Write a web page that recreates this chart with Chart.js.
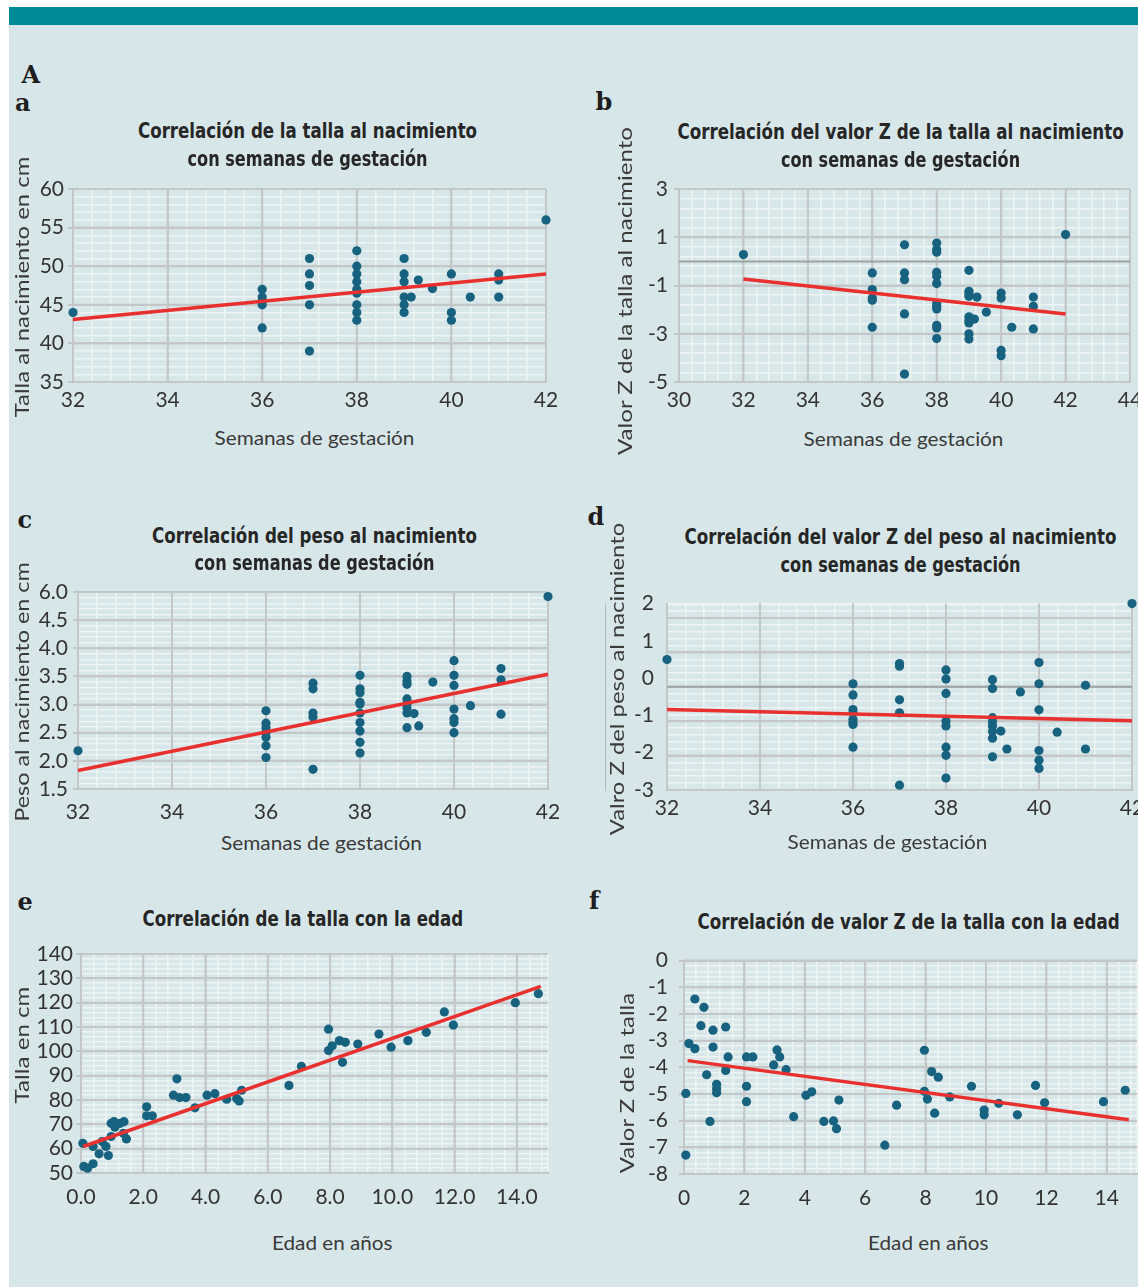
<!DOCTYPE html>
<html lang="es">
<head>
<meta charset="utf-8">
<title>Correlaciones de talla y peso</title>
<script src="https://cdn.jsdelivr.net/npm/chart.js@4.4.1/dist/chart.umd.min.js"></script>
<style>
  html, body { margin: 0; padding: 0; background: #fff; }
  body { width: 1138px; height: 1287px; position: relative; overflow: hidden; }
  #band { position: absolute; left: 9px; top: 7px; width: 1129px; height: 18px; background: #008b96; }
  #panel { position: absolute; left: 9px; top: 25px; width: 1129px; height: 1262px; background: #d7e6e9; }
  canvas { position: absolute; }
  .txt { position: absolute; white-space: nowrap; line-height: 1.2; }
  .title { font-family: "Liberation Sans Narrow", "DejaVu Sans Condensed", sans-serif; font-weight: bold; font-size: 21px; color: #262626; }
  .axis { font-family: Lato, "Open Sans", sans-serif; font-size: 20px; color: #3a3a3a; }
  .letter { font-family: "DejaVu Serif", serif; font-weight: bold; font-size: 24px; color: #1e1e1e; }
</style>
</head>
<body>
<div id="band"></div>
<div id="panel"></div>
<script>
// a: talla al nacimiento vs semanas
const aWeeks = [32, 36, 36, 36, 36, 36, 37, 37, 37, 37, 37, 38, 38, 38, 38, 38, 38, 38, 38, 38,
  39, 39, 39, 39, 39, 39, 39.15, 39.3, 39.6, 40, 40, 40, 40.4, 41, 41, 41, 42];
const aLength = [44, 47, 46, 45.5, 45, 42, 51, 49, 47.5, 45, 39, 52, 50, 49, 48, 47, 46.5, 45, 44, 43,
  51, 49, 48, 46, 45, 44, 46, 48.2, 47.1, 49, 44, 43, 46, 49, 48.2, 46, 56];
const aTrendX = [32, 42];
const aTrendY = [43.1, 49.0];

// b: valor Z de la talla al nacimiento vs semanas
const bWeeks = [32, 36, 36, 36, 36, 36, 37, 37, 37, 37, 37,
  38, 38, 38, 38, 38, 38, 38, 38, 38, 38, 38, 38,
  39, 39, 39, 39, 39, 39, 39, 39, 39, 39.17, 39.25, 39.54, 40, 40, 40, 40, 40.33, 41, 41, 41, 42];
const bZLength = [0.28, -0.48, -1.17, -1.52, -1.61, -2.73, 0.69, -0.48, -0.76, -2.18, -4.67,
  0.76, 0.49, 0.38, -0.45, -0.62, -0.92, -1.75, -1.86, -1.97, -2.65, -2.76, -3.2,
  -0.37, -1.24, -1.35, -1.45, -2.3, -2.44, -2.55, -3.0, -3.22, -2.39, -1.48, -2.1,
  -1.31, -1.52, -3.69, -3.91, -2.73, -1.48, -1.86, -2.8, 1.11];
const bTrendX = [32, 42];
const bTrendY = [-0.73, -2.18];

// c: peso al nacimiento vs semanas
const cWeeks = [32, 36, 36, 36, 36, 36, 36, 36, 37, 37, 37, 37, 37,
  38, 38, 38, 38, 38, 38, 38, 38, 38, 38, 39, 39, 39, 39, 39, 39, 39, 39,
  39.15, 39.25, 39.55, 40, 40, 40, 40, 40, 40, 40, 40.35, 41, 41, 41, 42];
const cWeight = [2.18, 2.89, 2.67, 2.59, 2.51, 2.42, 2.27, 2.06, 3.38, 3.28, 2.85, 2.78, 1.85,
  3.52, 3.28, 3.21, 3.04, 3.01, 2.85, 2.68, 2.53, 2.33, 2.14, 3.5, 3.42, 3.36, 3.1, 3.01, 2.94, 2.85, 2.59,
  2.84, 2.62, 3.4, 3.78, 3.52, 3.34, 2.92, 2.75, 2.68, 2.5, 2.98, 3.64, 3.44, 2.83, 4.92];
const cTrendX = [32, 42];
const cTrendY = [1.83, 3.54];
const cYTickText = ['1.5', '2.0', '2.5', '3.0', '3.5', '4.0', '4.5', '6.0'];

// d: valor Z del peso al nacimiento vs semanas
const dWeeks = [32, 36, 36, 36, 36, 36, 36, 36, 36, 37, 37, 37, 37, 37,
  38, 38, 38, 38, 38, 38, 38, 38, 39, 39, 39, 39, 39, 39, 39, 39,
  39.18, 39.31, 39.6, 40, 40, 40, 40, 40, 40, 40.39, 41, 41, 42];
const dZWeight = [0.5, -0.15, -0.45, -0.84, -0.93, -1.1, -1.19, -1.24, -1.85, 0.39, 0.32, -0.58, -0.93, -2.87,
  0.22, -0.02, -0.41, -1.15, -1.28, -1.85, -2.07, -2.68, -0.04, -0.28, -1.06, -1.17, -1.28, -1.43, -1.61, -2.11,
  -1.42, -1.9, -0.37, 0.42, -0.15, -0.85, -1.94, -2.2, -2.42, -1.45, -0.19, -1.9, 2.0];
const dTrendX = [32, 42];
const dTrendY = [-0.84, -1.14];

// e: talla vs edad
const eAge = [0.06, 0.09, 0.21, 0.39, 0.39, 0.58, 0.68, 0.80, 0.88, 0.97, 0.97, 1.06, 1.09, 1.26, 1.38, 1.36,
  1.46, 2.11, 2.11, 2.29, 2.97, 3.08, 3.17, 3.37, 3.66, 4.05, 4.30, 4.68, 5.00, 5.08, 5.16, 6.68, 7.08,
  7.95, 7.95, 8.07, 8.30, 8.40, 8.49, 8.89, 9.57, 9.96, 10.50, 11.09, 11.67, 11.96, 13.95, 14.69];
const eHeight = [62.2, 52.7, 52.0, 60.9, 53.8, 57.9, 62.9, 60.9, 57.2, 65.0, 70.4, 71.1, 68.8, 70.4, 71.1, 66.3,
  64.0, 77.2, 73.5, 73.5, 82.0, 88.7, 81.0, 81.0, 76.8, 82.0, 82.6, 80.3, 80.6, 79.6, 84.0, 86.0, 93.8,
  109.1, 100.3, 102.3, 104.4, 95.5, 103.7, 103.0, 107.1, 101.7, 104.4, 107.8, 116.2, 110.8, 120.0, 123.7];
const eTrendX = [0.07, 14.77];
const eTrendY = [60.9, 126.7];

// f: valor Z de la talla vs edad
const fAge = [0.06, 0.06, 0.16, 0.36, 0.36, 0.56, 0.66, 0.75, 0.86, 0.96, 0.96, 1.08, 1.08, 1.08, 1.38, 1.38,
  1.46, 2.07, 2.07, 2.07, 2.28, 2.97, 3.08, 3.17, 3.38, 3.63, 4.04, 4.23, 4.63, 4.95, 5.05, 5.13, 6.65,
  7.04, 7.96, 7.96, 8.06, 8.20, 8.30, 8.42, 8.80, 9.52, 9.94, 9.94, 10.42, 11.04, 11.64, 11.94, 13.89, 14.61];
const fZHeight = [-4.98, -7.29, -3.11, -1.44, -3.30, -2.44, -1.75, -4.28, -6.03, -2.61, -3.24, -4.64, -4.80, -4.95, -2.49, -4.12,
  -3.61, -3.61, -4.71, -5.29, -3.61, -3.91, -3.35, -3.61, -4.09, -5.85, -5.05, -4.92, -6.03, -6.01, -6.30, -5.23, -6.92,
  -5.42, -3.36, -4.90, -5.19, -4.16, -5.72, -4.37, -5.11, -4.71, -5.60, -5.78, -5.35, -5.78, -4.68, -5.33, -5.29, -4.86];
const fTrendX = [0.12, 14.73];
const fTrendY = [-3.75, -5.97];

const GRID_MAJOR = '#c3c7c8';
const GRID_MINOR = '#eef3f4';
const ZERO_LINE = '#9ea3a4';
const DOT = '#17627f';
const TREND = '#e8302f';

function onStep(v, step, base) {
  const q = (v - base) / step;
  return Math.abs(q - Math.round(q)) < 1e-6;
}

// eje lineal con rejilla menor (blanca) y mayor (gris)
function axis(o) {
  const major = c => onStep(c.tick.value, o.major, o.min);
  return {
    type: 'linear',
    axis: o.pos === 'left' ? 'y' : 'x',
    position: o.pos,
    weight: o.weight || 0,
    min: o.min,
    max: o.max,
    majorStep: o.major,
    afterBuildTicks: s => {
      const t = [];
      const n = Math.floor((o.max - o.min) / o.minor + 1e-9);
      for (let i = 0; i <= n; i++) t.push({ value: +(o.min + i * o.minor).toFixed(6) });
      if (t[t.length - 1].value < o.max - 1e-9) t.push({ value: o.max });
      s.ticks = t;
    },
    afterFit: s => {
      if (o.pos === 'left') s.width = o.size; else s.height = o.size;
    },
    grid: {
      display: o.grid !== false,
      color: c => major(c) ? GRID_MAJOR : GRID_MINOR,
      lineWidth: c => major(c) ? 2 : 1.5,
      drawTicks: o.pos === 'left' && o.grid !== false,
      tickLength: 5,
      tickColor: c => major(c) ? GRID_MAJOR : 'rgba(0,0,0,0)'
    },
    border: { display: o.grid !== false, color: '#b5b9ba', width: 2 },
    ticks: {
      display: o.labels !== false,
      autoSkip: false,
      maxRotation: 0,
      minRotation: 0,
      padding: o.pad,
      color: '#333',
      font: { family: 'Lato', size: 21 },
      callback: v => onStep(v, o.major, o.min) ? o.fmt(v) : ''
    }
  };
}

// repinta las líneas mayores encima de las menores, y la línea de y = 0
const gridOnTop = {
  id: 'gridOnTop',
  beforeDatasetsDraw(chart, args, opts) {
    const { left, right, top, bottom } = chart.chartArea;
    const ctx = chart.ctx;
    ctx.save();
    ctx.lineWidth = 2;
    ctx.strokeStyle = GRID_MAJOR;
    Object.values(chart.scales).forEach(s => {
      if (!s.options.grid.display) return;
      const step = s.options.majorStep;
      s.ticks.forEach(t => {
        if (!onStep(t.value, step, s.options.min)) return;
        const px = s.getPixelForValue(t.value);
        ctx.beginPath();
        if (s.isHorizontal()) { ctx.moveTo(px, top); ctx.lineTo(px, bottom); }
        else { ctx.moveTo(left, px); ctx.lineTo(right, px); }
        ctx.stroke();
      });
    });
    if (opts.axis) {
      const y = chart.scales[opts.axis].getPixelForValue(0);
      ctx.strokeStyle = ZERO_LINE;
      ctx.beginPath();
      ctx.moveTo(left, y);
      ctx.lineTo(right, y);
      ctx.stroke();
    }
    ctx.restore();
  }
};

function drawPanel(p) {
  const canvas = document.createElement('canvas');
  const left = p.area.left - 62, top = p.area.top - 20;
  const width = Math.round(p.area.right + 24 - left), height = Math.round(p.area.bottom + 40 - top);
  canvas.width = width;
  canvas.height = height;
  canvas.style.left = left + 'px';
  canvas.style.top = top + 'px';
  canvas.style.width = width + 'px';
  canvas.style.height = height + 'px';
  document.body.appendChild(canvas);

  const yId = p.dataAxis || 'y';
  new Chart(canvas, {
    type: 'scatter',
    data: {
      datasets: [{
        data: p.trendX.map((v, i) => ({ x: v, y: p.trendY[i] })),
        showLine: true,
        borderColor: TREND,
        borderWidth: 3.5,
        pointRadius: 0,
        order: 0,
        clip: false,
        yAxisID: yId
      }, {
        data: p.x.map((v, i) => ({ x: v, y: p.y[i] })),
        backgroundColor: DOT,
        borderWidth: 0,
        pointRadius: 4.6,
        order: 1,
        clip: false,
        yAxisID: yId
      }]
    },
    options: {
      responsive: false,
      animation: false,
      devicePixelRatio: 1,
      layout: { padding: { top: 20, right: 24, left: 0, bottom: 0 } },
      plugins: {
        legend: { display: false },
        tooltip: { enabled: false },
        gridOnTop: { axis: p.zeroAxis }
      },
      scales: p.scales
    },
    plugins: [gridOnTop]
  });
}

function placeText(cls, text, cx, cy, target, rotate) {
  const el = document.createElement('div');
  el.className = 'txt ' + cls;
  el.textContent = text;
  document.body.appendChild(el);
  const w = el.offsetWidth, h = el.offsetHeight;
  const sx = target ? target / w : 1;
  el.style.left = (cx - w / 2) + 'px';
  el.style.top = (cy - h / 2) + 'px';
  el.style.transform = (rotate ? 'rotate(-90deg) ' : '') + 'scaleX(' + sx + ')';
}

const weeksFmt = v => String(Math.round(v));

drawPanel({
  area: { left: 72.5, top: 189, right: 545, bottom: 382 },
  x: aWeeks, y: aLength, trendX: aTrendX, trendY: aTrendY,
  scales: {
    x: axis({ pos: 'bottom', min: 32, max: 42, minor: 0.4, major: 2, fmt: weeksFmt, pad: 6, size: 40 }),
    y: axis({ pos: 'left', min: 35, max: 60, minor: 1, major: 5, fmt: weeksFmt, pad: 4, size: 62 })
  }
});

drawPanel({
  area: { left: 679, top: 189, right: 1130, bottom: 382 },
  x: bWeeks, y: bZLength, trendX: bTrendX, trendY: bTrendY, zeroAxis: 'y',
  scales: {
    x: axis({ pos: 'bottom', min: 30, max: 44, minor: 0.4, major: 2, fmt: weeksFmt, pad: 6, size: 40 }),
    y: axis({ pos: 'left', min: -5, max: 3, minor: 0.4, major: 2, fmt: weeksFmt, pad: 6, size: 62 })
  }
});

drawPanel({
  area: { left: 78, top: 592, right: 548, bottom: 789 },
  x: cWeeks, y: cWeight, trendX: cTrendX, trendY: cTrendY,
  scales: {
    x: axis({ pos: 'bottom', min: 32, max: 42, minor: 0.4, major: 2, fmt: weeksFmt, pad: 11, size: 40 }),
    y: axis({ pos: 'left', min: 1.5, max: 5, minor: 0.1, major: 0.5,
      fmt: v => cYTickText[Math.round((v - 1.5) / 0.5)], pad: 5, size: 62 })
  }
});

drawPanel({
  area: { left: 667, top: 598, right: 1132, bottom: 790 },
  x: dWeeks, y: dZWeight, trendX: dTrendX, trendY: dTrendY, zeroAxis: 'yg',
  scales: {
    x: axis({ pos: 'bottom', min: 32, max: 42, minor: 0.4, major: 2, fmt: weeksFmt, pad: 6, size: 40 }),
    y: axis({ pos: 'left', min: -3, max: 2, minor: 1, major: 1, fmt: weeksFmt, pad: 13, size: 62, grid: false, weight: 0 }),
    yg: axis({ pos: 'left', min: -3, max: 2.42, minor: 0.2, major: 1, fmt: weeksFmt, pad: 0, size: 0, labels: false, weight: 1 })
  }
});

drawPanel({
  area: { left: 81, top: 954, right: 548, bottom: 1173 },
  x: eAge, y: eHeight, trendX: eTrendX, trendY: eTrendY,
  scales: {
    x: axis({ pos: 'bottom', min: 0, max: 15, minor: 0.4, major: 2, fmt: v => v.toFixed(1), pad: 12, size: 40 }),
    y: axis({ pos: 'left', min: 50, max: 140, minor: 2, major: 10, fmt: weeksFmt, pad: 3, size: 62 })
  }
});

drawPanel({
  area: { left: 684, top: 956.5, right: 1137, bottom: 1173 },
  x: fAge, y: fZHeight, trendX: fTrendX, trendY: fTrendY,
  scales: {
    x: axis({ pos: 'bottom', min: 0, max: 15, minor: 0.4, major: 2, fmt: weeksFmt, pad: 12, size: 40 }),
    y: axis({ pos: 'left', min: -8, max: 0, minor: 0.2, major: 1, fmt: weeksFmt, pad: 11, size: 62 })
  }
});

// letras de los paneles
placeText('letter', 'A', 31, 75);
placeText('letter', 'a', 23, 103);
placeText('letter', 'b', 604, 102);
placeText('letter', 'c', 25, 520);
placeText('letter', 'd', 596, 517);
placeText('letter', 'e', 25, 902);
placeText('letter', 'f', 594, 901);

// títulos
placeText('title', 'Correlación de la talla al nacimiento', 307, 131, 339);
placeText('title', 'con semanas de gestación', 307.5, 159, 240);
placeText('title', 'Correlación del valor Z de la talla al nacimiento', 900, 132, 446);
placeText('title', 'con semanas de gestación', 900.5, 160, 239);
placeText('title', 'Correlación del peso al nacimiento', 314.5, 536, 325);
placeText('title', 'con semanas de gestación', 314.5, 563, 240);
placeText('title', 'Correlación del valor Z del peso al nacimiento', 900, 537, 432);
placeText('title', 'con semanas de gestación', 900, 565, 240);
placeText('title', 'Correlación de la talla con la edad', 303, 919, 321);
placeText('title', 'Correlación de valor Z de la talla con la edad', 908, 922, 422);

// títulos de ejes
placeText('axis', 'Semanas de gestación', 314, 437, 200);
placeText('axis', 'Semanas de gestación', 903.5, 438, 200);
placeText('axis', 'Semanas de gestación', 321, 842, 201);
placeText('axis', 'Semanas de gestación', 887, 841, 200);
placeText('axis', 'Edad en años', 332, 1242, 121);
placeText('axis', 'Edad en años', 928, 1242, 121);

placeText('axis', 'Talla al nacimiento en cm', 20.5, 287, 260, true);
placeText('axis', 'Valor Z de la talla al nacimiento', 624, 291, 328, true);
placeText('axis', 'Peso al nacimiento en cm', 21, 692, 260, true);
placeText('axis', 'Valro Z del peso al nacimiento', 616, 679, 312, true);
placeText('axis', 'Talla en cm', 21, 1045, 117, true);
placeText('axis', 'Valor Z de la talla', 626, 1083, 180, true);
</script>
</body>
</html>
